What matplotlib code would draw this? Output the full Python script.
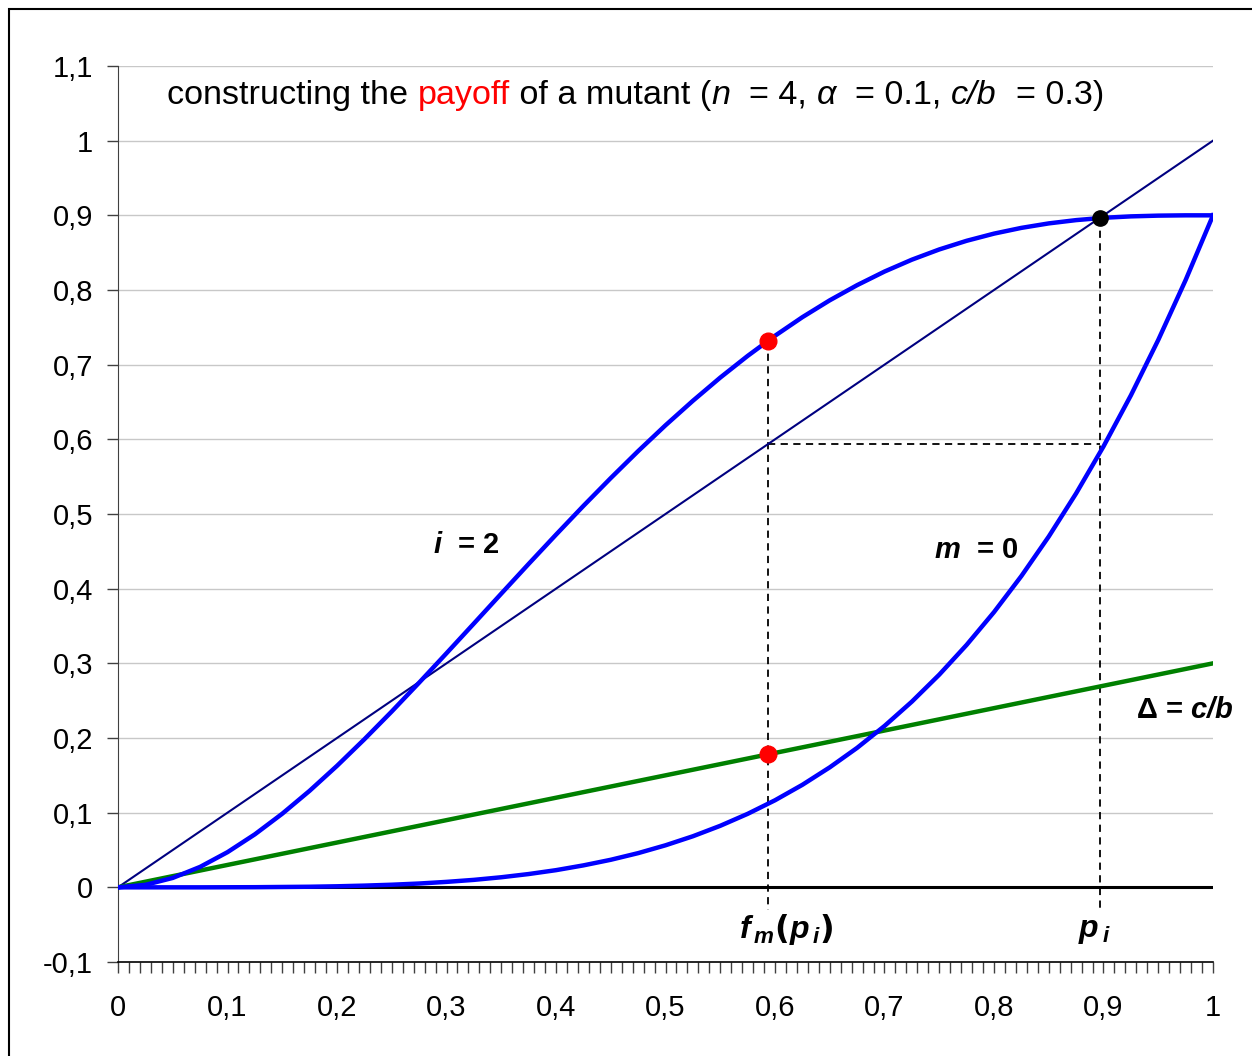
import matplotlib.pyplot as plt
from matplotlib.patches import Rectangle
from matplotlib.ticker import MultipleLocator, FuncFormatter

plt.rcParams['font.family'] = ['Liberation Sans', 'DejaVu Sans']
plt.rcParams['mathtext.fontset'] = 'custom'
plt.rcParams['mathtext.bfit'] = 'Liberation Sans:bold:italic'

# share of cooperators p, sampled every 0.025
p = [0.0, 0.025, 0.05, 0.075, 0.1, 0.125, 0.15, 0.175, 0.2, 0.225,
     0.25, 0.275, 0.3, 0.325, 0.35, 0.375, 0.4, 0.425, 0.45, 0.475,
     0.5, 0.525, 0.55, 0.575, 0.6, 0.625, 0.65, 0.675, 0.7, 0.725,
     0.75, 0.775, 0.8, 0.825, 0.85, 0.875, 0.9, 0.925, 0.95, 0.975, 1.0]

# payoff curve for i = 2
f_i2 = [0.0, 0.0033, 0.0126, 0.0274, 0.0471, 0.0710, 0.0986, 0.1293,
        0.1627, 0.1983, 0.2355, 0.2741, 0.3135, 0.3533, 0.3933, 0.4331,
        0.4723, 0.5108, 0.5481, 0.5842, 0.6188, 0.6516, 0.6827, 0.7117,
        0.7387, 0.7636, 0.7862, 0.8065, 0.8247, 0.8406, 0.8543, 0.8659,
        0.8755, 0.8832, 0.8892, 0.8936, 0.8967, 0.8986, 0.8996, 0.9000,
        0.9000]

# payoff curve for m = 0
f_m0 = [0.0, 0.0, 0.0, 0.0, 0.0001, 0.0002, 0.0005, 0.0008, 0.0014,
        0.0023, 0.0035, 0.0051, 0.0073, 0.0100, 0.0135, 0.0178, 0.0230,
        0.0294, 0.0369, 0.0458, 0.0563, 0.0684, 0.0824, 0.0984, 0.1166,
        0.1373, 0.1607, 0.1868, 0.2161, 0.2487, 0.2848, 0.3247, 0.3686,
        0.4169, 0.4698, 0.5276, 0.5905, 0.6589, 0.7331, 0.8133, 0.9000]

diag_x = [0.0, 1.0]
diag_y = [0.0, 1.0]
cb_x = [0.0, 1.0]
cb_y = [0.0, 0.3]

p_i = 0.897        # fixed point of the i = 2 curve
fm_pi = 0.5936     # m = 0 curve evaluated at p_i
f_at_fm = 0.732    # i = 2 curve at f_m(p_i)
cb_at_fm = 0.178   # c/b line at f_m(p_i)

fig = plt.figure(figsize=(12.52, 10.56), dpi=100)
ax = fig.add_axes([118 / 1252, 1 - 962 / 1056, 1095 / 1252, 896 / 1056])

# outer chart frame
fig.patches.append(Rectangle((9 / 1252, -0.05), 1.1, 1 - 9 / 1056 + 0.05,
                             transform=fig.transFigure, fill=False,
                             edgecolor='black', linewidth=1.5))

ax.set_xlim(0, 1)
ax.set_ylim(-0.1, 1.1)
for yv in [i / 10 for i in range(0, 12)]:
    ax.axhline(yv, color='#c8c8c8', linewidth=1.0, zorder=0)
ax.axhline(0, color='black', linewidth=2.2, zorder=1)

ax.plot(diag_x, diag_y, color='#000080', linewidth=1.5, zorder=3)
ax.plot(cb_x, cb_y, color='#008000', linewidth=3.2, zorder=3)
ax.plot(p, f_i2, color='#0000ff', linewidth=3.2, zorder=4)
ax.plot(p, f_m0, color='#0000ff', linewidth=3.2, zorder=4)

dash = dict(color='black', linewidth=1.3, linestyle=(0, (4, 3)), zorder=2)
ax.plot([fm_pi, fm_pi], [f_at_fm, -0.03], **dash)
ax.plot([p_i, p_i], [p_i, -0.03], **dash)
ax.plot([fm_pi, p_i], [fm_pi, fm_pi], **dash)

ax.plot([fm_pi], [f_at_fm], 'o', color='#ff0000', markersize=12, zorder=6)
ax.plot([fm_pi], [cb_at_fm], 'o', color='#ff0000', markersize=12, zorder=6)
ax.plot([p_i], [p_i], 'o', color='black', markersize=11, zorder=6)

lbl = dict(fontsize=21, fontweight='bold', va='center', ha='left')
ax.text(0.288, 0.459, r'$\mathbfit{i}$  = 2', **lbl)
ax.text(0.745, 0.452, r'$\mathbfit{m}$  = 0', **lbl)
ax.text(0.93, 0.237, r'Δ = $\mathbfit{c/b}$', clip_on=False, **lbl)
ax.text(0.567, -0.056,
        r'$\mathbfit{f}_{\,\mathbfit{m}}\mathbf{(}\mathbfit{p}_{\,\mathbfit{i}}\mathbf{)}$',
        va='center', ha='left', fontsize=23)
ax.text(0.877, -0.058, r'$\mathbfit{p}_{\,\mathbfit{i}}$',
        va='center', ha='left', fontsize=23)

title_parts = [('constructing the ', 'black', 'normal'),
               ('payoff', '#ff0000', 'normal'),
               (' of a mutant (', 'black', 'normal'),
               ('n', 'black', 'italic'), ('  = 4, ', 'black', 'normal'),
               ('α', 'black', 'italic'), ('  = 0.1, ', 'black', 'normal'),
               ('c/b', 'black', 'italic'), ('  = 0.3)', 'black', 'normal')]
fig.canvas.draw()
renderer = fig.canvas.get_renderer()
x0 = 0.045
for txt, col, sty in title_parts:
    t = ax.text(x0, 1.061, txt, fontsize=24.6, color=col, fontstyle=sty,
                va='center', ha='left')
    bb = t.get_window_extent(renderer=renderer)
    x0 = ax.transData.inverted().transform((bb.x1, bb.y0))[0]

ax.spines['top'].set_visible(False)
ax.spines['right'].set_visible(False)
ax.spines['left'].set_color('#404040')
ax.spines['bottom'].set_position(('data', -0.1))
ax.spines['bottom'].set_linewidth(1.2)

ax.yaxis.set_major_locator(MultipleLocator(0.1))
ax.xaxis.set_major_locator(MultipleLocator(0.1))
ax.xaxis.set_minor_locator(MultipleLocator(0.01))


def comma_label(v, pos):
    if abs(v - round(v)) < 1e-9:
        return str(int(round(v)))
    return ('%.1f' % v).replace('.', ',')


ax.xaxis.set_major_formatter(FuncFormatter(comma_label))
ax.yaxis.set_major_formatter(FuncFormatter(comma_label))
ax.tick_params(axis='both', which='both', direction='out', length=8,
               width=1, labelsize=21, color='#404040')
ax.tick_params(axis='x', pad=15)
ax.tick_params(axis='y', pad=10)

fig.savefig('out.png', dpi=100)
